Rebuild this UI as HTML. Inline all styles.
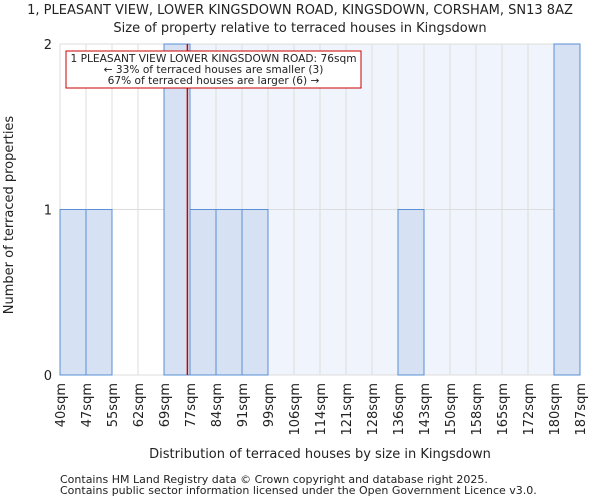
<!DOCTYPE html>
<html><head><meta charset="utf-8"><style>
body{margin:0;background:#fff;font-family:"DejaVu Sans","Liberation Sans",sans-serif;}
svg text{font-family:"DejaVu Sans","Liberation Sans",sans-serif;fill:#222;}
</style></head><body>
<svg id="chart" width="600" height="500" viewBox="0 0 600 500">
<text x="300" y="14" font-size="13" text-anchor="middle">1, PLEASANT VIEW, LOWER KINGSDOWN ROAD, KINGSDOWN, CORSHAM, SN13 8AZ</text>
<text x="300" y="32" font-size="13" text-anchor="middle">Size of property relative to terraced houses in Kingsdown</text>
<g id="plot"></g>
<text x="320" y="458" font-size="13" text-anchor="middle">Distribution of terraced houses by size in Kingsdown</text>
<text transform="translate(13,215) rotate(-90)" font-size="13" text-anchor="middle">Number of terraced properties</text>
<text x="60" y="483" font-size="11" fill="#333">Contains HM Land Registry data © Crown copyright and database right 2025.</text>
<text x="60" y="494" font-size="11" fill="#333">Contains public sector information licensed under the Open Government Licence v3.0.</text>
</svg>
<script>
const binLabels=["40sqm","47sqm","55sqm","62sqm","69sqm","77sqm","84sqm","91sqm","99sqm","106sqm","114sqm","121sqm","128sqm","136sqm","143sqm","150sqm","158sqm","165sqm","172sqm","180sqm","187sqm"];
const counts=[1,1,0,0,2,1,1,1,0,0,0,0,0,1,0,0,0,0,0,2];
const yTicks=[0,1,2];
const propertyIndex=4.9;
const NS="http://www.w3.org/2000/svg";
const g=document.getElementById('plot');
const x0=60,x1=580,yT=44,yB=375,yMax=2;
const bw=(x1-x0)/counts.length;
const xs=i=>x0+i*bw;
const ys=v=>yB-(v/yMax)*(yB-yT);
function mk(t,a){const e=document.createElementNS(NS,t);for(const k in a)e.setAttribute(k,a[k]);g.appendChild(e);return e;}
const px=xs(propertyIndex);
let e=mk('rect',{x:px,y:yT,width:x1-px,height:yB-yT,fill:'#f0f4fc'});


for(let i=0;i<=counts.length;i++){
 e=mk('line',{x1:xs(i),x2:xs(i),y1:yT,y2:yB,stroke:'#ddd','stroke-width':1});
 
 
}
yTicks.forEach(t=>{
 e=mk('line',{x1:x0,x2:x1,y1:ys(t),y2:ys(t),stroke:'#ddd','stroke-width':1});
 
 
 e=mk('text',{x:x0-8,y:ys(t)+5,'font-size':13,'text-anchor':'end'});e.textContent=t;
 
 
});
counts.forEach((c,i)=>{
 if(c<=0)return;
 e=mk('rect',{x:xs(i),y:ys(c),width:bw,height:yB-ys(c),fill:'#d6e1f3',stroke:'#5b8fd6','stroke-width':1});
 
 
});
binLabels.forEach((l,i)=>{
 e=mk('text',{transform:`translate(${xs(i)+5},383) rotate(-90)`,'font-size':13,'text-anchor':'end'});e.textContent=l;
 
 
});
e=mk('line',{x1:px,x2:px,y1:yT,y2:yB,stroke:'#c00','stroke-width':1.5});


e=mk('rect',{x:66,y:51,width:295,height:37,fill:'#fff',stroke:'#c00','stroke-width':1});


["1 PLEASANT VIEW LOWER KINGSDOWN ROAD: 76sqm","← 33% of terraced houses are smaller (3)","67% of terraced houses are larger (6) →"].forEach((t,k)=>{
 e=mk('text',{x:213.5,y:62+k*11,'font-size':10.6,'text-anchor':'middle'});e.textContent=t;
 
 
});
</script>
</body></html>
